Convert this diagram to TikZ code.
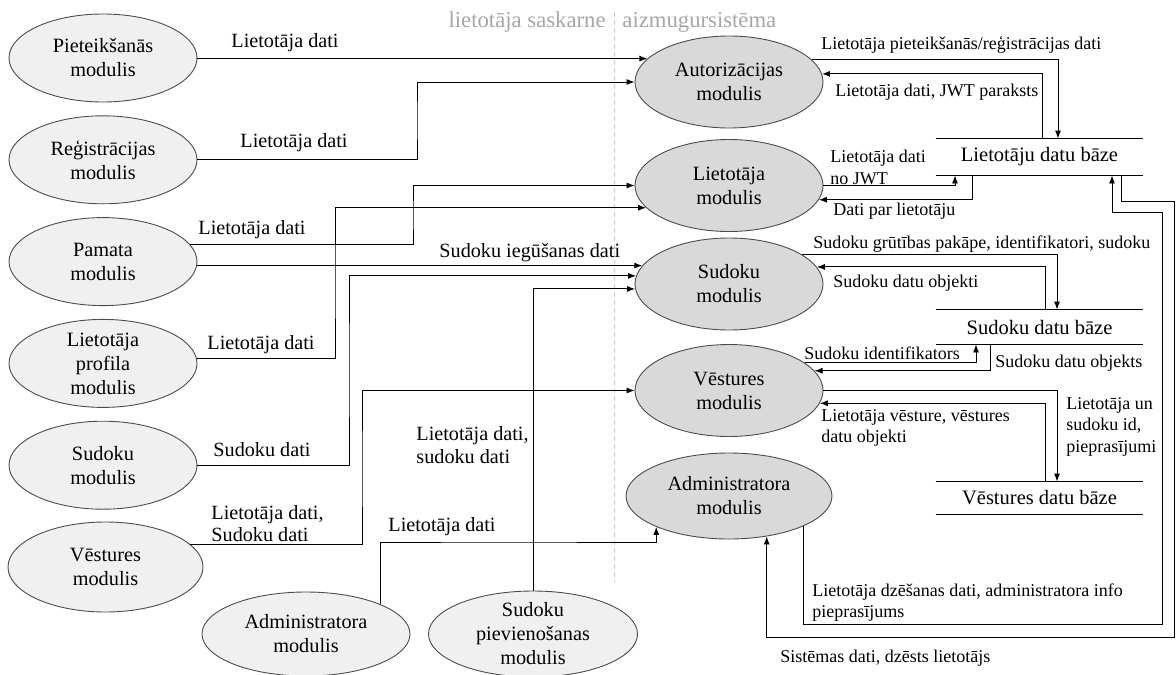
\documentclass[tikz,border=0pt]{standalone}
\usepackage{fontspec}
\setmainfont{Liberation Serif}
\usetikzlibrary{arrows.meta,shapes}

\begin{document}
\begin{tikzpicture}[
            x = 1pt, y = -1pt, % pixel grid, y grows downwards
            > = {Latex[length=8pt, width=6pt]}, % arrow head style
            line width = 0.9pt, % line style
            node distance = 101.8pt % distance between the user side modules
        ]

        \tikzstyle{leftmod}=[
            ellipse,
            draw = black!70,
            fill = black!6,
            minimum width = 188pt,
            minimum height = 88pt,
            inner sep = 0pt,
            align = center,
            font = \fontsize{20.3}{24}\selectfont
        ]
        \tikzstyle{rightmod}=[leftmod, fill = black!15, minimum height = 92pt]
        \tikzstyle{store}=[minimum width = 207pt, minimum height = 34pt, inner sep = 0pt,
            font = \fontsize{20.5}{24}\selectfont]
        \tikzstyle{llab}=[anchor = west, inner sep = 0pt, align = left,
            font = \fontsize{20.2}{22.5}\selectfont]
        \tikzstyle{rlab}=[llab, font = \fontsize{18}{21.5}\selectfont]
        \tikzstyle{hdr}=[inner sep = 0pt, text = black!35, font = \fontsize{22.7}{26}\selectfont]

        \useasboundingbox (0,0) rectangle (1176,675);

        % header and divider
        \node[hdr, anchor=east] (hdrUser) at (606,22) {lietotāja saskarne};
        \node[hdr, anchor=west] (hdrBack) at (622,22) {aizmugursistēma};
        \draw[black!20, dash pattern=on 5pt off 3pt] (614.5,12) -- (614.5,582);

        % user side modules
        \node[leftmod] (piet) at (103,58) {Pieteikšanās\\modulis};
        \node[leftmod] (reg) [below of=piet] {Reģistrācijas\\modulis};
        \node[leftmod] (pam) [below of=reg] {Pamata\\modulis};
        \node[leftmod, inner ysep=-5pt] (prof) [below of=pam] {Lietotāja\\profila\\modulis};
        \node[leftmod] (sudL) [below of=prof] {Sudoku\\modulis};
        \node[leftmod, minimum width=195pt, minimum height=90pt, xshift=2.5pt] (histL) [below of=sudL] {Vēstures\\modulis};
        \node[leftmod, minimum width=208pt, minimum height=84pt] (admL) at (306,634) {Administratora\\modulis};
        \node[leftmod, minimum width=209pt, minimum height=86pt, inner ysep=-5pt] (addSud) at (533,634) {Sudoku\\pievienošanas\\modulis};

        % back end modules
        \node[rightmod] (auth) at (729,82) {Autorizācijas\\modulis};
        \node[rightmod] (user) at (729,185.5) {Lietotāja\\modulis};
        \node[rightmod] (sudR) at (729,284) {Sudoku\\modulis};
        \node[rightmod] (histR) at (729,390.5) {Vēstures\\modulis};
        \node[rightmod, minimum width=206pt, minimum height=86pt] (admR) at (729,496) {Administratora\\modulis};

        % data stores
        \node[store, minimum height=36pt] (ldb) at (1039.5,157) {Lietotāju datu bāze};
        \node[store] (sdb) at (1039.5,327) {Sudoku datu bāze};
        \node[store, minimum height=32pt] (hdb) at (1039.5,498) {Vēstures datu bāze};
        \foreach \s in {ldb,sdb,hdb}
            \draw (\s.north west) -- (\s.north east) (\s.south west) -- (\s.south east);

        % bends
        \coordinate (jReg) at (417,120);
        \coordinate (jPam) at (413,215);
        \coordinate (jProf) at (335,280);
        \coordinate (jSud) at (349,370);
        \coordinate (jHist) at (362,470);
        \coordinate (jAdm) at (500,542);
        \coordinate (jA1) at (1162,624);
        \coordinate (jA2) at (1162,212);
        \coordinate (jB1) at (1174,201);
        \coordinate (jB2) at (1174,637);

        % user side -> back end
        \draw[->] (auth.164 -| piet.east) -- (auth.164);
        \draw[->] (reg.east) -| (jReg) |- (auth.west);
        \draw[->] (pam.11) -| (jPam) |- (user.west);
        \draw[->] (sudR.168 -| pam.east) -- (sudR.168);
        \draw[->] (prof.3) -| (jProf) |- (user.195);
        \draw[->] (sudL.east) -| (jSud) |- (sudR.175);
        \draw[->] (addSud.north) |- (sudR.183);
        \draw[->] (histL.15) -| (jHist) |- (histR.west);
        \draw[->] (admL.22) |- (jAdm) -| (admR.203);

        % back end <-> data stores
        \draw[->] (auth.15) -| ([xshift=18.5pt]ldb.north);
        \draw[->] ([xshift=2.5pt]ldb.north) |- (auth.5);
        \draw[->] (user.east) -| ([xshift=-84.5pt]ldb.south);
        \draw[->] ([xshift=-67.5pt]ldb.south) |- (user.351);
        \draw[->] (sudR.22) -| ([xshift=17.5pt]sdb.north);
        \draw[->] ([xshift=5.5pt]sdb.north) |- (sudR.11);
        \draw[->] (histR.20) -| ([xshift=-63.5pt]sdb.south);
        \draw[->] ([xshift=-49.5pt]sdb.south) |- (histR.13);
        \draw[->] (histR.east) -| ([xshift=17.5pt]hdb.north);
        \draw[->] ([xshift=5.5pt]hdb.north) |- (histR.352);
        \draw[->] (admR.338) |- (jA1) -- (jA2) -| ([xshift=72.5pt]ldb.south);
        \draw[->] ([xshift=81.5pt]ldb.south) |- (jB1) -- (jB2) -| (admR.313);

        % labels
        \node[llab] (lbPiet) at (231,43) {Lietotāja dati};
        \node[llab] (lbReg) at (240,143) {Lietotāja dati};
        \node[llab] (lbPam) at (198,230) {Lietotāja dati};
        \node[llab] (lbPamSud) at (439,253) {Sudoku iegūšanas dati};
        \node[llab] (lbProf) at (207,345) {Lietotāja dati};
        \node[llab] (lbSud) at (213,450) {Sudoku dati};
        \node[llab] (lbHist) at (211,523.5) {Lietotāja dati,\\Sudoku dati};
        \node[llab] (lbAdd) at (416,445) {Lietotāja dati,\\sudoku dati};
        \node[llab] (lbAdm) at (388,527) {Lietotāja dati};

        \node[rlab] (lbAuthOut) at (821,45) {Lietotāja pieteikšanās/reģistrācijas dati};
        \node[rlab] (lbAuthIn) at (835,92) {Lietotāja dati, JWT paraksts};
        \node[rlab] (lbUserOut) at (830,167.5) {Lietotāja dati\\no JWT};
        \node[rlab] (lbUserIn) at (833,211) {Dati par lietotāju};
        \node[rlab] (lbSudOut) at (813,244) {Sudoku grūtības pakāpe, identifikatori, sudoku};
        \node[rlab] (lbSudIn) at (833,283) {Sudoku datu objekti};
        \node[rlab] (lbHistId) at (804,353) {Sudoku identifikators};
        \node[rlab] (lbHistObj) at (995,363) {Sudoku datu objekts};
        \node[rlab] (lbHistIn) at (821,428) {Lietotāja vēsture, vēstures\\datu objekti};
        \node[rlab] (lbHistOut) at (1066,426.5) {Lietotāja un\\sudoku id,\\pieprasījumi};
        \node[rlab] (lbAdmOut) at (812,602.5) {Lietotāja dzēšanas dati, administratora info\\pieprasījums};
        \node[rlab] (lbAdmIn) at (780,658) {Sistēmas dati, dzēsts lietotājs};

    \end{tikzpicture}
\end{document}
